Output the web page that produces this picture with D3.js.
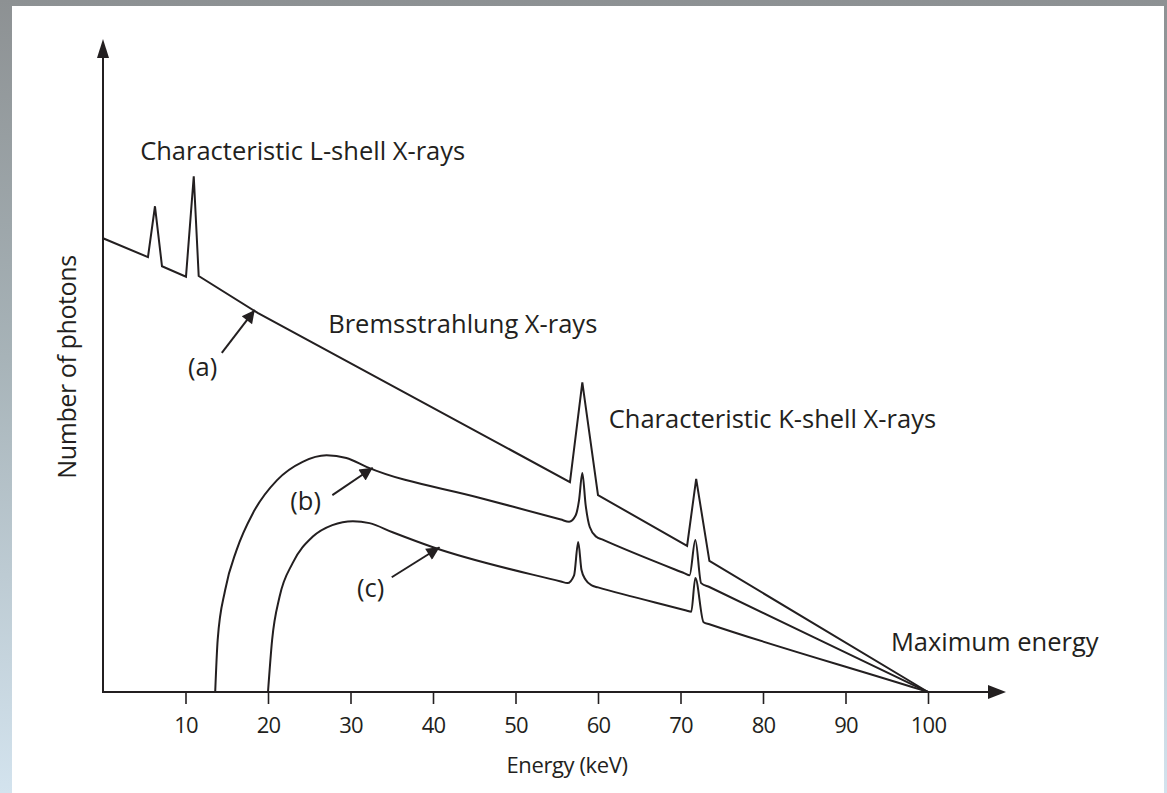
<!DOCTYPE html>
<html lang="en">
<head>
<meta charset="utf-8">
<title>X-ray spectrum</title>
<style>
  html, body { margin: 0; padding: 0; }
  body { width: 1167px; height: 793px; overflow: hidden; }
  svg { display: block; }
  text { font-family: "Open Sans", sans-serif; fill: #231f20; }
</style>
</head>
<body>
<svg id="chart" width="1167" height="793"></svg>
<script src="https://d3js.org/d3.v7.min.js"></script>
<script>
// (a) unfiltered spectrum: bremsstrahlung line plus L and K lines
const energyA = [0, 5.45, 6.3, 7.15, 10.06, 11.0, 11.6, 18.8, 56.6, 58.1, 60.0, 70.8, 71.9, 73.5, 100];
const countsA = [69.6, 66.7, 74.5, 65.3, 63.7, 79.1, 63.8, 58.1, 32.2, 47.5, 30.2, 22.4, 32.7, 20.1, 0];

// (b) filtered spectrum
const energyB = [13.6, 13.9, 14.8, 16.2, 18.2, 21.1, 24.2, 27.1, 29.5, 32.0, 45.6, 55.5, 56.5, 57.3, 57.7, 58.1, 58.5, 59.0, 59.8, 60.5, 70.5, 71.1, 71.8, 72.5, 73.5, 99, 100];
const countsB = [0, 8.0, 15.6, 21.8, 27.5, 32.5, 35.3, 36.3, 35.9, 34.5, 29.8, 26.45, 26.1, 27.1, 29.4, 33.6, 28.7, 25.3, 23.8, 23.4, 18.2, 17.9, 23.3, 16.7, 16.1, 0.6, 0];

// (c) heavier filtration
const energyC = [20.0, 20.5, 21.4, 23.0, 25.4, 27.8, 30.3, 32.3, 35.1, 40.0, 55.5, 56.3, 57.1, 57.6, 58.0, 58.5, 59.3, 60.0, 70.7, 71.3, 71.8, 72.8, 73.5, 99, 100];
const countsC = [0, 8.0, 14.6, 19.8, 23.8, 25.6, 26.2, 25.9, 24.5, 22.2, 16.95, 16.7, 17.9, 23.0, 18.7, 17.2, 16.3, 16.05, 12.5, 12.3, 17.5, 10.7, 10.4, 0.4, 0];

const tickValues = [10, 20, 30, 40, 50, 60, 70, 80, 90, 100];

const noteText = ["Characteristic L-shell X-rays", "Bremsstrahlung X-rays", "Characteristic K-shell X-rays", "Maximum energy", "(a)", "(b)", "(c)"];
const noteEnergy = [4.5, 27.3, 61.3, 95.5, 10.3, 22.7, 30.8];
const noteCount = [81.6, 55.1, 40.5, 6.3, 48.5, 27.9, 14.6];

// pointer arrows: from (energy, count) to (energy, count)
const pointerFrom = [[14.4, 52.0], [27.8, 30.2], [35.0, 17.6]];
const pointerTo = [[18.4, 58.6], [32.7, 34.4], [40.8, 22.2]];

const svg = d3.select("#chart");
const ink = "#231f20";

// backdrop frame
const defs = svg.append("defs");
const grad = defs.append("linearGradient").attr("id", "frame")
  .attr("x1", 0).attr("y1", 0).attr("x2", 0).attr("y2", 1);
grad.append("stop").attr("offset", "0%").attr("stop-color", "#8d9193");
grad.append("stop").attr("offset", "45%").attr("stop-color", "#a7b3b8");
grad.append("stop").attr("offset", "100%").attr("stop-color", "#d3e3ee");
svg.append("rect").attr("width", 1167).attr("height", 793).attr("fill", "url(#frame)");
svg.append("rect").attr("x", 12).attr("y", 6).attr("width", 1152).attr("height", 787).attr("fill", "#fff");

defs.append("marker").attr("id", "head")
  .attr("viewBox", "0 0 10 10").attr("refX", 10).attr("refY", 5)
  .attr("markerWidth", 16).attr("markerHeight", 13)
  .attr("markerUnits", "userSpaceOnUse")
  .attr("orient", "auto")
  .append("path").attr("d", "M0,0L10,5L0,10Z").attr("fill", ink);

const x = d3.scaleLinear().domain([0, 100]).range([103, 928]);
const y = d3.scaleLinear().domain([0, 100]).range([692, 40]);

// axes with arrow heads
const axisG = svg.append("g");
axisG.append("line")
  .attr("x1", x(0)).attr("x2", 992).attr("y1", y(0)).attr("y2", y(0))
  .attr("stroke", ink).attr("stroke-width", 2);
axisG.append("path")
  .attr("d", `M1006,${y(0)}L988,${y(0) - 7}L988,${y(0) + 7}Z`).attr("fill", ink);
axisG.append("line")
  .attr("x1", x(0)).attr("x2", x(0)).attr("y1", y(0) + 1).attr("y2", 55)
  .attr("stroke", ink).attr("stroke-width", 2);
axisG.append("path")
  .attr("d", `M${x(0)},39L${x(0) - 6},58L${x(0) + 6},58Z`).attr("fill", ink);

const xAxis = d3.axisBottom(x).tickValues(tickValues).tickSize(12).tickPadding(13);
const xg = svg.append("g").attr("transform", `translate(0,${y(0)})`).call(xAxis);
xg.select(".domain").remove();
xg.selectAll(".tick line").attr("stroke", ink).attr("stroke-width", 1.6);
xg.selectAll(".tick text").attr("font-size", 22).attr("font-family", "Open Sans, sans-serif")
  .attr("fill", ink).attr("letter-spacing", -0.8);

svg.append("text").attr("x", 567).attr("y", 773).attr("text-anchor", "middle")
  .attr("font-size", 22).attr("letter-spacing", -0.4).text("Energy (keV)");
svg.append("text").attr("transform", "translate(76,367) rotate(-90)")
  .attr("text-anchor", "middle").attr("font-size", 25).attr("letter-spacing", -0.4)
  .text("Number of photons");

// spectra
const lineA = d3.line().x((d, i) => x(energyA[i])).y(d => y(d)).curve(d3.curveLinear);
const smooth = (e) => d3.line().x((d, i) => x(e[i])).y(d => y(d)).curve(d3.curveMonotoneX);

svg.append("path").attr("d", lineA(countsA))
  .attr("fill", "none").attr("stroke", ink).attr("stroke-width", 2).attr("stroke-linejoin", "miter");
svg.append("path").attr("d", smooth(energyB)(countsB))
  .attr("fill", "none").attr("stroke", ink).attr("stroke-width", 2);
svg.append("path").attr("d", smooth(energyC)(countsC))
  .attr("fill", "none").attr("stroke", ink).attr("stroke-width", 2);

// labels
svg.selectAll("text.note")
  .data(noteText)
  .enter()
  .append("text")
  .attr("class", "note")
  .attr("x", (d, i) => x(noteEnergy[i]))
  .attr("y", (d, i) => y(noteCount[i]))
  .attr("font-size", 25.5)
  .text(d => d);

svg.selectAll("line.pointer")
  .data(pointerFrom)
  .enter()
  .append("line")
  .attr("class", "pointer")
  .attr("x1", d => x(d[0])).attr("y1", d => y(d[1]))
  .attr("x2", (d, i) => x(pointerTo[i][0])).attr("y2", (d, i) => y(pointerTo[i][1]))
  .attr("stroke", ink).attr("stroke-width", 2)
  .attr("marker-end", "url(#head)");
</script>
</body>
</html>
